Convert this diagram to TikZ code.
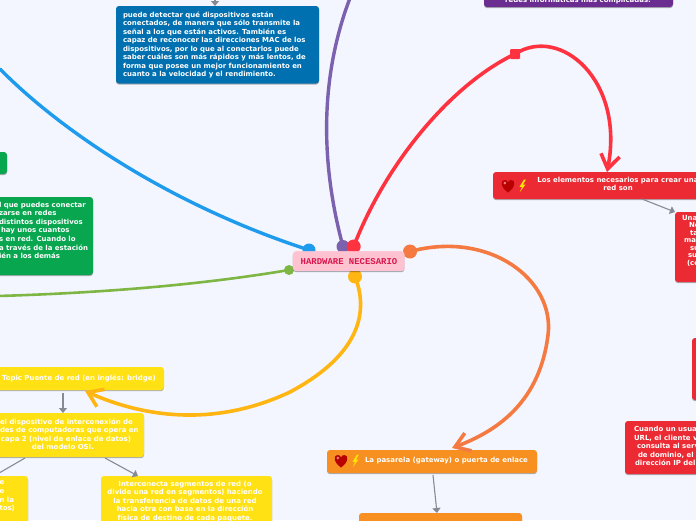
\documentclass[tikz,border=0pt]{standalone}
\usepackage{fontspec}
\setmainfont{DejaVu Sans}
\newfontfamily\centerfont{Liberation Mono}
\usetikzlibrary{arrows.meta}
\definecolor{bgc}{HTML}{F4F6FF}
\definecolor{bluebox}{HTML}{0070B0}
\definecolor{purplebox}{HTML}{6A2C91}
\definecolor{greenbox}{HTML}{08A64F}
\definecolor{redbox}{HTML}{EC2A33}
\definecolor{orangebox}{HTML}{F79020}
\definecolor{yellowbox}{HTML}{FFE114}
\definecolor{pinkbox}{HTML}{FFC2D0}
\definecolor{crim}{HTML}{D8174F}
\definecolor{lblue}{HTML}{1E9BEC}
\definecolor{lpurple}{HTML}{7B61AE}
\definecolor{lgreen}{HTML}{7DB643}
\definecolor{lred}{HTML}{FF3340}
\definecolor{lorange}{HTML}{F47A42}
\definecolor{lyellow}{HTML}{FFB612}
\definecolor{greyline}{HTML}{868A92}
\tikzset{
  x=1pt,y=-1pt,
  card/.style={rectangle,fill=#1,rounded corners=3pt,inner sep=0pt,outer sep=0pt,
    preaction={fill=black,opacity=.3,transform canvas={yshift=-1.2pt}}},
  txt/.style={text=white,font=\fontsize{6.95}{8.55}\selectfont\bfseries,inner sep=0pt,outer sep=0pt},
  branch/.style={line width=3.4pt,line cap=round},
  dot/.style={circle,fill=#1,inner sep=0pt,outer sep=0pt},
  link/.style={draw=greyline,line width=1.1pt,-{Triangle[length=5pt,width=8pt]}},
  big/.style={line width=3.6pt,line cap=round,-{Straight Barb[length=14pt,width=19pt,line width=3.6pt]}}
}
\newcommand{\cardnode}[6]{% name, colour, x1, y1, x2, y2
  \node[card=#2,minimum width={(#5-#3)*1pt},minimum height={(#6-#4)*1pt}] (#1) at ({(#3+#5)/2},{(#4+#6)/2}) {};
}
\newcommand{\heartbolt}[2]{% x, y
  \begin{scope}[shift={(#1,#2)}]
    \fill[red!72!black] (0,6.5) .. controls (-8,1) and (-7.5,-6) .. (-3.4,-6) .. controls (-1.6,-6) and (-.4,-5) .. (0,-3.6) .. controls (.4,-5) and (1.6,-6) .. (3.4,-6) .. controls (7.5,-6) and (8,1) .. (0,6.5) -- cycle;
    \fill[red!30!white,opacity=.7] (-3.2,-3) circle (1.5);
    \fill[yellow!85!orange] (16,-6.5) -- (11.5,.8) -- (14,.8) -- (11.8,6) -- (17.5,-1.5) -- (15,-1.5) -- (18,-6.5) -- cycle;
  \end{scope}
}
\begin{document}
\begin{tikzpicture}
\useasboundingbox (0,0) rectangle (696,520);
\clip (0,0) rectangle (696,520);
\fill[bgc] (0,0) rectangle (696,520);

% ---- free ends and arrow positions
\coordinate (bluestart) at (0,69);
\coordinate (purpleend) at (350,-2);
\coordinate (greenstart) at (-2,296);
\coordinate (l0) at (215,-3);
\coordinate (l1a) at (642,0);
\coordinate (l1b) at (0,212);
\coordinate (l2a) at (433,0);
\coordinate (l2b) at (437,0);
\coordinate (l3) at (63,0);
\coordinate (l4a) at (25,0);
\coordinate (l4b) at (-6,0);
\coordinate (l5a) at (105,0);
\coordinate (l5b) at (138,0);
\coordinate (tipred) at (607,0);
\coordinate (tiporange) at (452,0);
\coordinate (tipyellow) at (85,0);

% ---- dots
\node[dot=lblue,minimum size=13pt] (dblue) at (309,250) {};
\node[dot=lpurple,minimum size=13pt] (dpurple) at (343,246.5) {};
\node[dot=lgreen,minimum size=10pt] (dgreen) at (289,270) {};
\node[dot=lorange,minimum size=14pt] (dorange) at (410,251.5) {};
\node[dot=lyellow,minimum size=14pt] (dyellow) at (355,276.5) {};

% ---- branches without arrow
\draw[branch,lblue] (bluestart) .. controls (60,130) and (170,205) .. (dblue.center);
\draw[branch,lpurple] (dpurple.center) .. controls (325,180) and (315,90) .. (purpleend);
\draw[line width=2.6pt,line cap=round,lgreen] (dgreen.center) .. controls (200,285) and (100,293) .. (greenstart);
\node[dot=lred,minimum size=14pt] (dred) at (353.7,246.5) {};

% ---- cards
\cardnode{cblue}{bluebox}{116}{6}{319}{83.5}
\cardnode{cpurple}{purplebox}{484}{-20}{673}{7}
\cardnode{cgreenA}{greenbox}{-20}{152}{7}{174}
\cardnode{cgreenB}{greenbox}{-20}{197}{93}{275}
\cardnode{credA}{redbox}{493}{172}{730}{199}
\cardnode{credB}{redbox}{675}{212}{730}{282}
\cardnode{credC}{redbox}{692}{338}{730}{400}
\cardnode{credD}{redbox}{625}{421}{730}{474}
\cardnode{corangeA}{orangebox}{327}{450}{537}{473}
\cardnode{corangeB}{orangebox}{359}{513}{522}{540}
\fill[white] (-20,368) rectangle (165,391);
\cardnode{cyellowA}{yellowbox}{-20}{367}{164}{390}
\cardnode{cyellowB}{yellowbox}{-20}{413}{144}{457}
\cardnode{cyellowC}{yellowbox}{-20}{476}{28}{530}
\cardnode{cyellowD}{yellowbox}{101}{476}{272}{530}

% ---- card text
\node[txt,align=left,anchor=north west] (tblue) at (123,11.5) {puede detectar qué dispositivos están\\conectados, de manera que sólo transmite la\\señal a los que están activos. También es\\capaz de reconocer las direcciones MAC de los\\dispositivos, por lo que al conectarlos puede\\saber cuáles son más rápidos y más lentos, de\\forma que posee un mejor funcionamiento en\\cuanto a la velocidad y el rendimiento.};
\node[txt,anchor=base] (tpurple) at (578,2) {redes informáticas más complicadas.};
\node[txt,align=left,anchor=north west] (tgreen) at (-1,202) {l que puedes conectar\\zarse en redes\\distintos dispositivos\\\hspace*{2pt}hay unos cuantos\\s en red. Cuando lo\\a través de la estación\\ién a los demás};
\node[txt,align=center,anchor=north] (tredA) at (618,177) {Los elementos necesarios para crear una\\red son};
\node[txt,font=\fontsize{6.95}{7.55}\selectfont\bfseries,align=left,anchor=north west] (tredB) at (682,215) {Una\\\hspace*{7pt}Ne\\\hspace*{8pt}ta\\\hspace*{2pt}mar\\\hspace*{8pt}su\\\hspace*{6pt}su\\\hspace*{5pt}(co};
\node[txt,align=left,anchor=north west] (tredD) at (634,426.5) {Cuando un usua\\URL, el cliente v\\\hspace*{3pt}consulta al serv\\\hspace*{4pt}de dominio, el\\\hspace*{1pt}dirección IP del};
\node[txt,anchor=west] (torange) at (365,461) {La pasarela (gateway) o puerta de enlace};
\node[txt,anchor=west] (tyellowA) at (2,378.5) {Topic Puente de red (en inglés: bridge)};
\node[txt,align=left,anchor=north west] (tyellowB) at (0,418.5) {el dispositivo de interconexión de\\des de computadoras que opera en\\\hspace*{1pt}capa 2 (nivel de enlace de datos)\\\hspace*{32pt}del modelo OSI.};
\node[txt,align=left,anchor=north west] (tyellowC) at (-.5,481) {e\\e\\n la\\tos)};
\node[txt,align=center,anchor=north] (tyellowD) at (185,481) {Interconecta segmentos de red (o\\divide una red en segmentos) haciendo\\la transferencia de datos de una red\\hacia otra con base en la dirección\\física de destino de cada paquete.};

\heartbolt{508}{186}
\heartbolt{341}{461}

% ---- grey connectors
\draw[link] (l0) -- (cblue.north -| l0);
\draw[link] (credA.south -| l1a) -- (credB.west |- l1b);
\draw[link] ([yshift=-2pt]corangeA.south -| l2a) -- (corangeB.north -| l2b);
\draw[link] ([yshift=-3pt]cyellowA.south -| l3) -- (cyellowB.north -| l3);
\draw[link] ([yshift=-1pt]cyellowB.south -| l4a) -- (cyellowC.north -| l4b);
\draw[link] ([yshift=-1pt]cyellowB.south -| l5a) -- (cyellowD.north -| l5b);

% ---- coloured arrows
\node[fill=lred,rounded corners=1pt,minimum size=10pt,inner sep=0pt] (sq) at (515,54) {};
\draw[big,lred] (dred.center) .. controls (385,165) and (450,85) .. (sq.center) .. controls (560,25) and (625,80) .. (credA.north -| tipred);
\draw[big,lorange] (dorange.center) .. controls (490,230) and (555,280) .. (548,335) .. controls (540,400) and (500,430) .. ([yshift=2pt]corangeA.north -| tiporange);
\draw[big,lyellow] (dyellow.center) .. controls (372,320) and (350,360) .. (290,392) .. controls (220,425) and (150,420) .. ([yshift=-1pt]cyellowA.south -| tipyellow);

% ---- central topic
\node[card=pinkbox,preaction={fill=pinkbox},minimum width=111.5pt,minimum height=19.5pt] (cpink) at (348.7,261.2) {};
\node[font=\fontsize{8.95}{9}\selectfont\bfseries\centerfont,text=crim,inner sep=0pt] (tcenter) at (349,261.3) {HARDWARE NECESARIO};
\end{tikzpicture}
\end{document}
